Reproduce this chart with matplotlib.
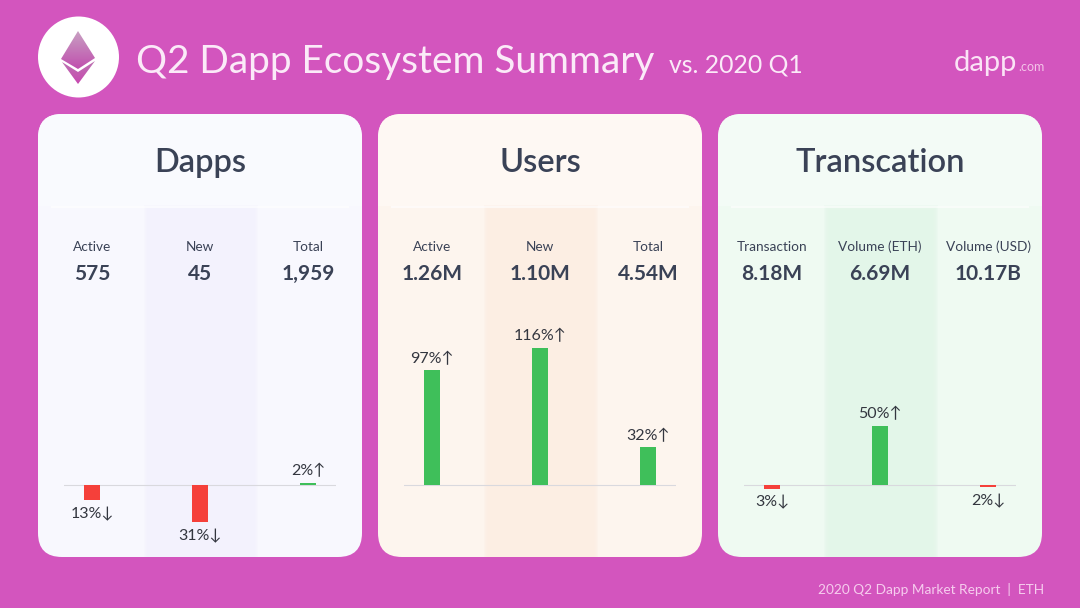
import matplotlib
matplotlib.use("Agg")
import matplotlib.pyplot as plt
import matplotlib.patches as patches
from matplotlib.colors import LinearSegmentedColormap
import numpy as np

plt.rcParams['font.family'] = ['Lato', 'DejaVu Sans']

BG = '#D355BE'
DARK = '#3A4256'
GREEN = '#3FBF5A'
RED = '#F5403A'

panel_titles = ['Dapps', 'Users', 'Transcation']
col_labels = [['Active', 'New', 'Total'],
              ['Active', 'New', 'Total'],
              ['Transaction', 'Volume (ETH)', 'Volume (USD)']]
col_values = [['575', '45', '1,959'],
              ['1.26M', '1.10M', '4.54M'],
              ['8.18M', '6.69M', '10.17B']]
changes = [[-13, -31, 2],
           [97, 116, 32],
           [-3, 50, -2]]

panel_left = [38, 378, 718]
panel_colors = ['#F8F8FE', '#FDF5EE', '#EFFAF2']
band_colors = ['#F3F2FD', '#FCEEE3', '#E3F6E9']
head_colors = ['#F9FAFE', '#FEF8F3', '#F3FBF6']

fig = plt.figure(figsize=(10.8, 6.08), dpi=100, facecolor=BG)

# page layer in pixel coords
bg = fig.add_axes([0, 0, 1, 1])
bg.set_xlim(0, 1080)
bg.set_ylim(608, 0)
bg.axis('off')

# logo
bg.add_patch(patches.Circle((78.5, 57), 40.5, facecolor='white', edgecolor='none'))
grad = np.linspace(0, 1, 64).reshape(-1, 1)
cmap = LinearSegmentedColormap.from_list('eth', ['#C8A0C2', '#C04FAE'])
top = patches.Polygon([(78, 31), (95, 58), (78, 69), (61, 59)], transform=bg.transData)
im = bg.imshow(grad, extent=(60, 96, 69, 31), cmap=cmap, aspect='auto', zorder=3)
im.set_clip_path(top)
bottom = patches.Polygon([(62, 62), (78, 72), (95, 61), (78, 84)], transform=bg.transData)
cmap2 = LinearSegmentedColormap.from_list('eth2', ['#BC74B2', '#C848B0'])
im2 = bg.imshow(grad, extent=(60, 96, 84, 61), cmap=cmap2, aspect='auto', zorder=3)
im2.set_clip_path(bottom)
bg.set_xlim(0, 1080)
bg.set_ylim(608, 0)

bg.text(136, 62, 'Q2 Dapp Ecosystem Summary', color='#FBEAF8', fontsize=27.95, va='center', ha='left')
bg.text(669, 65, 'vs. 2020 Q1', color='#FBEAF8', fontsize=17.8, va='center', ha='left')
bg.text(954, 63, 'dapp', color='#FBE3F6', fontsize=21, va='center', ha='left')
bg.text(1018, 67, '.com', color='#F4C4E9', fontsize=9, va='center', ha='left')
bg.text(1044, 589, '2020 Q2 Dapp Market Report  |  ETH', color='#F6CDEE', fontsize=9.8, va='center', ha='right')

for i, left in enumerate(panel_left):
    card = patches.FancyBboxPatch((left + 24, 114 + 24), 324 - 48, 443 - 48,
                                  boxstyle='round,pad=24', facecolor=panel_colors[i], edgecolor='none')
    bg.add_patch(card)
    bg.add_patch(patches.Rectangle((left, 114), 324, 92, facecolor=head_colors[i], edgecolor='none',
                                   clip_path=card))
    # soft edged column band
    for k in range(6):
        bg.add_patch(patches.Rectangle((left + 106 + k, 205 + k), 114 - 2 * k, 352,
                                       facecolor=band_colors[i], edgecolor='none', alpha=0.3,
                                       clip_path=card))
    bg.plot([left + 14, left + 310], [206.5, 206.5], color='white', lw=1.5, alpha=0.6)
    bg.text(left + 162, 163, panel_titles[i], color=DARK, fontsize=23.5, ha='center', va='center',
            fontweight='semibold')

    # bars on their own axes, y in percent
    ax = fig.add_axes([(left + 26) / 1080, 1 - 556 / 608, 272 / 1080, 348 / 608])
    ax.patch.set_alpha(0)
    ax.set_xlim(-0.26, 2.26)
    ax.set_ylim(-59.9, 233.8)
    ax.axis('off')
    x = np.arange(3)
    vals = changes[i]
    ax.axhline(0, color='#D9D9DE', lw=0.8, zorder=1)
    ax.bar(x, vals, width=0.148, color=[GREEN if v > 0 else RED for v in vals], zorder=2)
    for j, v in enumerate(vals):
        arrow = '↑' if v > 0 else '↓'
        ax.annotate(f'{abs(v)}%{arrow}', (j, v), xytext=(0, 3 if v > 0 else -5), textcoords='offset points',
                    ha='center', va='bottom' if v > 0 else 'top', fontsize=11.5, color='#33363F')
        cx = left + 54 + 108 * j
        bg.text(cx, 247, col_labels[i][j], color=DARK, fontsize=9.8, ha='center', va='center')
        bg.text(cx, 274, col_values[i][j], color=DARK, fontsize=15, ha='center', va='center',
                fontweight='bold')

fig.savefig('out.png', dpi=100, facecolor=BG)
